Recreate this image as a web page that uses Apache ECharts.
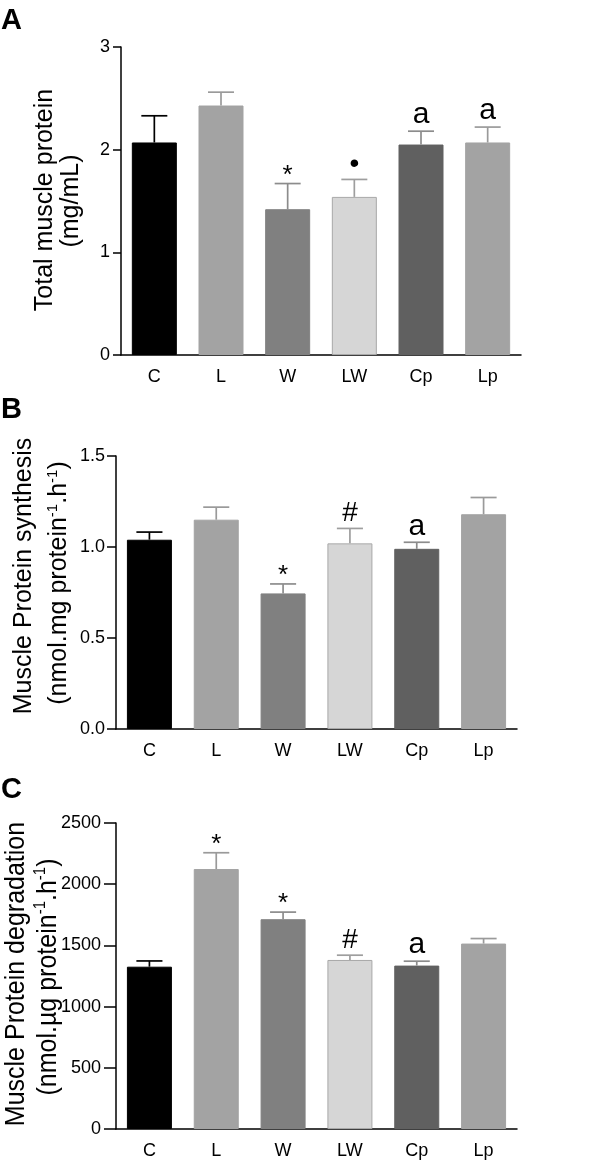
<!DOCTYPE html>
<html><head><meta charset="utf-8">
<script src="https://cdn.jsdelivr.net/npm/echarts@6/dist/echarts.min.js"></script>
<style>html,body{margin:0;padding:0;background:#fff}#c{width:600px;height:1162px}</style>
</head><body><div id="c"></div>
<script>
// ---- data ----
const categories = ['C', 'L', 'W', 'LW', 'Cp', 'Lp'];

const totalProteinMean = [2.07, 2.43, 1.42, 1.54, 2.05, 2.07];
const totalProteinSem  = [0.26, 0.13, 0.25, 0.17, 0.13, 0.15];
const totalProteinMarks = ['', '', '*', '\u2022', 'a', 'a'];

const synthesisMean = [1.04, 1.15, 0.745, 1.02, 0.99, 1.18];
const synthesisSem  = [0.042, 0.069, 0.052, 0.082, 0.036, 0.092];
const synthesisMarks = ['', '', '*', '#', 'a', ''];

const degradationMean = [1326, 2124, 1714, 1381, 1335, 1515];
const degradationSem  = [47, 133, 58, 39, 36, 41];
const degradationMarks = ['', '*', '*', '#', 'a', ''];

const ticksA = { min: 0, max: 3, interval: 1 };
const ticksB = { min: 0, max: 1.5, interval: 0.5 };
const ticksC = { min: 0, max: 2500, interval: 500 };

// ---- styles ----
const FONT = "'Liberation Sans', Arial, Helvetica, sans-serif";
const barColors    = ['#000000', '#a3a3a3', '#808080', '#d6d6d6', '#606060', '#a3a3a3'];
const borderColors = ['#000000', '#a3a3a3', '#808080', '#a8a8a8', '#606060', '#a3a3a3'];
const errColors    = ['#000000', '#9a9a9a', '#8c8c8c', '#9e9e9e', '#8c8c8c', '#9a9a9a'];
const markSize  = { '*': 26, '#': 28, 'a': 30, '\u2022': 28 };
const markShift = { '*': -8, '#': -15, 'a': -16, '\u2022': -15 };

const grids = [
  { left: 121, right: 79, top: 47, height: 308 },
  { left: 116, right: 83, top: 456, height: 273 },
  { left: 116, right: 83, top: 823, height: 306 }
];
const tickLen = [8, 9, 12];
const labelMargin = [11, 11, 15];

function xAxisFor(g) {
  return {
    type: 'category', gridIndex: g, data: categories,
    axisLine: { lineStyle: { color: '#000', width: 1.5 } },
    axisTick: { show: false },
    axisLabel: { fontSize: 18, color: '#000', fontFamily: FONT, margin: 13 }
  };
}
function yAxisFor(g, t, fmt) {
  return {
    type: 'value', gridIndex: g, min: t.min, max: t.max, interval: t.interval,
    axisLine: { show: true, lineStyle: { color: '#000', width: 1.5 } },
    axisTick: { show: true, length: tickLen[g], lineStyle: { color: '#000', width: 1.5 } },
    splitLine: { show: false },
    axisLabel: { fontSize: 18, color: '#000', fontFamily: FONT, margin: labelMargin[g], formatter: fmt }
  };
}
function barSeries(g, means) {
  return {
    type: 'bar', xAxisIndex: g, yAxisIndex: g, barWidth: 45, silent: true,
    data: means.map((v, i) => ({ value: v, itemStyle: { color: barColors[i], borderColor: borderColors[i], borderWidth: 1 } }))
  };
}
function errSeries(g, means, sems, marks) {
  return {
    type: 'custom', xAxisIndex: g, yAxisIndex: g, silent: true, z: 3,
    data: means.map((m, i) => [i, m, m + sems[i]]),
    renderItem(params, api) {
      const i = api.value(0);
      const base = api.coord([i, api.value(1)]);
      const top = api.coord([i, api.value(2)]);
      const bw = api.size([1, 0])[0];
      const half = bw * 0.195;
      const col = errColors[i];
      const children = [
        { type: 'line', shape: { x1: base[0], y1: base[1], x2: top[0], y2: top[1] }, style: { stroke: col, lineWidth: 1.7 } },
        { type: 'line', shape: { x1: top[0] - half, y1: top[1], x2: top[0] + half, y2: top[1] }, style: { stroke: col, lineWidth: 1.7 } }
      ];
      const mk = marks[i];
      if (mk) {
        children.push({
          type: 'text', x: top[0], y: top[1] + markShift[mk],
          style: { text: mk, fontSize: markSize[mk], fontFamily: FONT, fill: '#000', align: 'center', verticalAlign: 'middle' }
        });
      }
      return { type: 'group', children };
    }
  };
}

function vText(x, y, text, size, rich, sy) {
  return {
    type: 'text', x: x, y: y, rotation: Math.PI / 2, scaleY: sy || 1,
    style: { text: text, fontSize: size, fontFamily: FONT, fill: '#000', align: 'center', verticalAlign: 'middle', rich: rich }
  };
}
const supRich = {
  n: { fontSize: 25, fontFamily: FONT, fill: '#000', lineHeight: 28 },
  s: { fontSize: 15, fontFamily: FONT, fill: '#000', verticalAlign: 'top', lineHeight: 28 }
};

const chart = echarts.init(document.getElementById('c'), null, { renderer: 'canvas' });
chart.setOption({
  animation: false,
  backgroundColor: '#fff',
  grid: grids,
  xAxis: [xAxisFor(0), xAxisFor(1), xAxisFor(2)],
  yAxis: [
    yAxisFor(0, ticksA, v => String(v)),
    yAxisFor(1, ticksB, v => v.toFixed(1)),
    yAxisFor(2, ticksC, v => String(v))
  ],
  series: [
    barSeries(0, totalProteinMean), errSeries(0, totalProteinMean, totalProteinSem, totalProteinMarks),
    barSeries(1, synthesisMean), errSeries(1, synthesisMean, synthesisSem, synthesisMarks),
    barSeries(2, degradationMean), errSeries(2, degradationMean, degradationSem, degradationMarks)
  ],
  graphic: [
    { type: 'text', left: 1, top: 6, style: { text: 'A', fontSize: 29, fontWeight: 'bold', fontFamily: FONT, fill: '#000' } },
    { type: 'text', left: 1, top: 395, style: { text: 'B', fontSize: 29, fontWeight: 'bold', fontFamily: FONT, fill: '#000' } },
    { type: 'text', left: 1, top: 775, style: { text: 'C', fontSize: 29, fontWeight: 'bold', fontFamily: FONT, fill: '#000' } },
    vText(45, 200, 'Total muscle protein', 25),
    vText(71, 201, '(mg/mL)', 25),
    vText(24, 576, 'Muscle Protein synthesis', 25),
    vText(59, 583, '{n|(nmol.mg protein}{s|-1}{n|.h}{s|-1}{n|)}', 25, supRich),
    vText(16, 974, 'Muscle Protein degradation', 25, null, 1.1),
    vText(48, 977, '{n|(nmol.\u00b5g protein}{s|-1}{n|.h}{s|-1}{n|)}', 25, supRich, 1.1)
  ]
});
</script>
</body></html>
